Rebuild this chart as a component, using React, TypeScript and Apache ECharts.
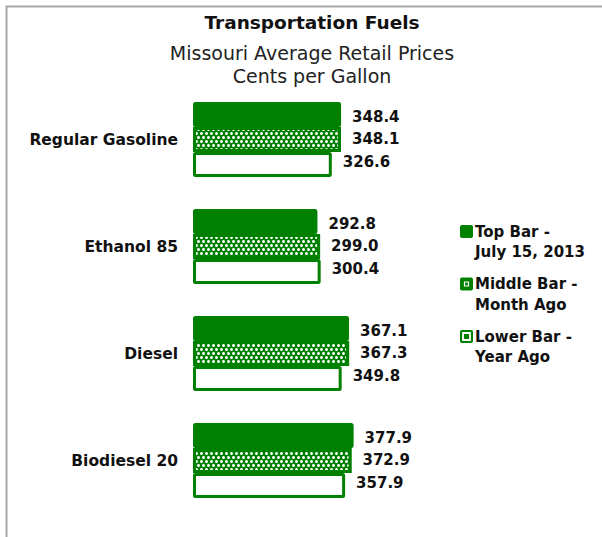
import React, { useEffect, useRef } from "react";
import * as echarts from "echarts";

const categories = ["Regular Gasoline", "Ethanol 85", "Diesel", "Biodiesel 20"];
const seriesNames = ["Top Bar -\nJuly 15, 2013", "Middle Bar -\nMonth Ago", "Lower Bar -\nYear Ago"];
const topBar = [348.4, 292.8, 367.1, 377.9];
const middleBar = [348.1, 299.0, 367.3, 372.9];
const lowerBar = [326.6, 300.4, 349.8, 357.9];

const GREEN = "#008000";
const FONT = "'DejaVu Sans', Verdana, sans-serif";

export default function App() {
  const ref = useRef<HTMLDivElement>(null);
  useEffect(() => {
    if (!ref.current) return;
    const chart = echarts.init(ref.current, null, { renderer: "svg" });
    const label = (offsetY: number) => ({
      show: true,
      position: "right" as const,
      distance: 11,
      offset: [0, offsetY],
      fontFamily: FONT,
      fontWeight: "bold" as const,
      fontSize: 15,
      color: "#111",
      formatter: (p: any) => Number(p.value).toFixed(1),
    });

    const legendX = 460;
    const legendY = 225;
    const legendStep = 52.5;
    const legendGraphics: any[] = [];
    seriesNames.forEach((name, i) => {
      const y = legendY + i * legendStep;
      const children: any[] = [
        { type: "rect", shape: { x: 0, y: 0, width: 13, height: 13, r: 2 }, style: { fill: GREEN } },
      ];
      if (i === 1) {
        children.push({ type: "rect", shape: { x: 4.5, y: 4.5, width: 4, height: 4 }, style: { fill: GREEN, stroke: "#fff", lineWidth: 1.2 } });
      }
      if (i === 2) {
        children.push({ type: "rect", shape: { x: 3, y: 3, width: 7, height: 7 }, style: { fill: GREEN, stroke: "#fff", lineWidth: 1.8 } });
      }
      children.push({
        type: "text",
        x: 15,
        y: -3.5,
        style: {
          text: name,
          fontFamily: FONT,
          fontWeight: "bold",
          fontSize: 15,
          lineHeight: 20.5,
          fill: "#111",
        },
      });
      legendGraphics.push({ type: "group", x: legendX, y, children });
    });

    chart.setOption({
      animation: false,
      backgroundColor: "#fff",
      title: [
        {
          text: "Transportation Fuels",
          left: 307,
          top: 6,
          textAlign: "center",
          textStyle: { fontFamily: FONT, fontWeight: "bold", fontSize: 18.5, lineHeight: 22, color: "#111" },
        },
        {
          text: "Missouri Average Retail Prices\nCents per Gallon",
          left: 307,
          top: 36,
          textAlign: "center",
          textStyle: { fontFamily: FONT, fontWeight: "normal", fontSize: 19, lineHeight: 23, color: "#222" },
        },
      ],
      grid: { left: 193, width: 170, top: 86, height: 428 },
      xAxis: { type: "value", min: 0, max: 400, show: false },
      yAxis: {
        type: "category",
        data: categories,
        inverse: true,
        axisLine: { show: false },
        axisTick: { show: false },
        axisLabel: { margin: 15, fontFamily: FONT, fontWeight: "bold", fontSize: 15.5, color: "#111" },
      },
      series: [
        {
          name: seriesNames[0],
          type: "bar",
          data: topBar,
          barWidth: 25,
          barGap: "0%",
          itemStyle: { color: GREEN, borderColor: GREEN, borderWidth: 3, borderRadius: 1 },
          label: label(2.5),
        },
        {
          name: seriesNames[1],
          type: "bar",
          data: middleBar,
          barWidth: 25,
          barGap: "0%",
          itemStyle: {
            color: GREEN,
            borderColor: GREEN,
            borderWidth: 3,
            decal: {
              symbol: "circle",
              symbolSize: 1,
              color: "#fff",
              dashArrayX: [[2.5, 1.5], [0, 2, 2.5, 0]],
              dashArrayY: [2.5, 0.8],
              rotation: 0,
            },
          },
          label: label(-0.5),
        },
        {
          name: seriesNames[2],
          type: "bar",
          data: lowerBar,
          barWidth: 25,
          barGap: "0%",
          itemStyle: { color: "#fff", borderColor: GREEN, borderWidth: 3, borderRadius: 1 },
          label: label(-2.5),
        },
      ],
      graphic: [
        { type: "line", shape: { x1: 6, y1: 6.5, x2: 602, y2: 6.5 }, style: { stroke: "#a6a6a6", lineWidth: 2 } },
        { type: "line", shape: { x1: 6.5, y1: 6, x2: 6.5, y2: 537 }, style: { stroke: "#a6a6a6", lineWidth: 2 } },
        ...legendGraphics,
      ],
    });
    return () => chart.dispose();
  }, []);
  return (
    <div
      ref={ref}
      style={{ position: "fixed", left: 0, top: 0, width: 602, height: 537 }}
    />
  );
}
